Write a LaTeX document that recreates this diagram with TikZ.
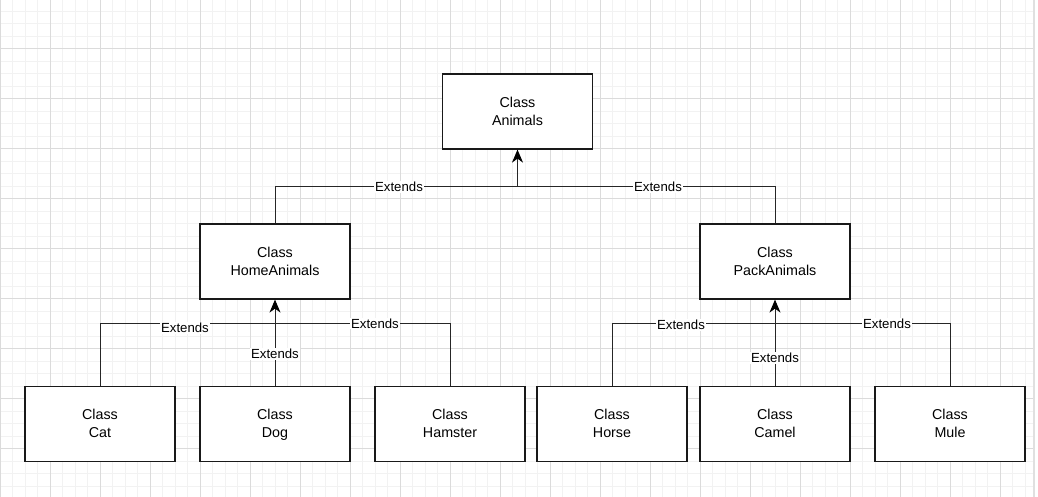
\documentclass[tikz,border=0pt]{standalone}
\usepackage{fontspec}
\setmainfont{Liberation Sans}
\usetikzlibrary{arrows.meta}
\begin{document}
\begin{tikzpicture}[x=1pt,y=-1pt,
  classbox/.style={draw=black!90,line width=1.2pt,fill=white,minimum width=150pt,minimum height=75pt,inner sep=0pt,align=center,font=\fontsize{14.3}{18}\selectfont},
  extends/.style={fill=white,inner sep=0.8pt,font=\fontsize{13.2}{15}\selectfont},
  link/.style={draw=black!85,line width=1pt},
  arr/.style={link,-{Stealth[length=13pt 0,width=11pt 0,inset=4pt,black]}},
  minorgrid/.style={draw=black!5,line width=0.8pt},
  majorgrid/.style={draw=black!14,line width=1pt}]
\useasboundingbox (0,0) rectangle (1038,497);
\fill[white] (0,0) rectangle (1038,497);
% grid
\foreach \x in {0,12.5,...,1032}
  \draw[minorgrid] (\x,0) -- (\x,497);
\foreach \y in {-1.5,11,...,497}
  \draw[minorgrid] (0,\y) -- (1033,\y);
\foreach \x in {0,50,...,1000}
  \draw[majorgrid] (\x,0) -- (\x,497);
\foreach \y in {-1.5,48.5,...,497}
  \draw[majorgrid] (0,\y) -- (1033,\y);
\draw[black!12,line width=2pt] (1034,0) -- (1034,497);
%
\node[classbox](animals) at (517.5,111.5) {\raisebox{-1pt}{Class}\strut\\\raisebox{-1pt}{Animals}\strut};
%
\node[classbox](home) at (275,261.5) {\raisebox{-1pt}{Class}\strut\\\raisebox{-1pt}{HomeAnimals}\strut};
\node[classbox](pack) at (775,261.5) {\raisebox{-1pt}{Class}\strut\\\raisebox{-1pt}{PackAnimals}\strut};
\coordinate(jtop) at (517.5,187);
\draw[link](home) |- (jtop);
\draw[link](pack) |- (jtop);
\draw[arr](jtop) -- (animals);
\node[extends](xhome) at (399,187) {Extends};
\node[extends](xpack) at (658,187) {Extends};
%
\node[classbox](cat) at (100,424) {\raisebox{-1pt}{Class}\strut\\\raisebox{-1pt}{Cat}\strut};
\node[classbox](dog) at (275,424) {\raisebox{-1pt}{Class}\strut\\\raisebox{-1pt}{Dog}\strut};
\node[classbox](hamster) at (450,424) {\raisebox{-1pt}{Class}\strut\\\raisebox{-1pt}{Hamster}\strut};
\coordinate(jhome) at (275,323.7);
\draw[link](cat) |- (jhome);
\draw[link](hamster) |- (jhome);
\draw[arr](dog) -- (home);
\node[extends](xcat) at (185,328) {Extends};
\node[extends](xdog) at (275,354) {Extends};
\node[extends](xhamster) at (375,323.5) {Extends};
%
\node[classbox](horse) at (612,424) {\raisebox{-1pt}{Class}\strut\\\raisebox{-1pt}{Horse}\strut};
\node[classbox](camel) at (775,424) {\raisebox{-1pt}{Class}\strut\\\raisebox{-1pt}{Camel}\strut};
\node[classbox](mule) at (950,424) {\raisebox{-1pt}{Class}\strut\\\raisebox{-1pt}{Mule}\strut};
\coordinate(jpack) at (775,323.7);
\draw[link](horse) |- (jpack);
\draw[link](mule) |- (jpack);
\draw[arr](camel) -- (pack);
\node[extends](xhorse) at (681,325) {Extends};
\node[extends](xcamel) at (775,358) {Extends};
\node[extends](xmule) at (887,324) {Extends};
\end{tikzpicture}
\end{document}
